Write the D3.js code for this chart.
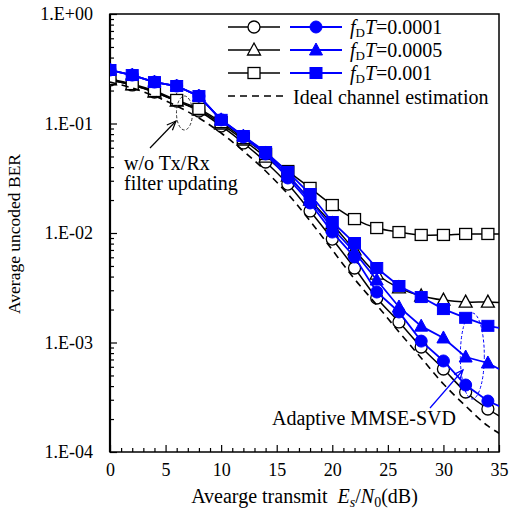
<!DOCTYPE html>
<html>
<head>
<meta charset="utf-8">
<script src="https://cdn.jsdelivr.net/npm/d3@7/dist/d3.min.js"></script>
<style>
  body { margin: 0; background: #fff; }
  svg { display: block; font-family: "Liberation Serif", "Times New Roman", serif; }
</style>
</head>
<body>
<svg id="chart" width="509" height="513"></svg>
<script>
// Es/N0 in dB, last point lies just past the axis end (lines run to the frame)
var snrDb = [0, 2, 4, 6, 8, 10, 12, 14, 16, 18, 20, 22, 24, 26, 28, 30, 32, 34, 36];

// w/o Tx/Rx filter updating (black, open markers)
var woUpd0001 = [0.25, 0.225, 0.194, 0.16, 0.13, 0.095, 0.0664, 0.0445, 0.028, 0.0159, 0.00881, 0.00479, 0.00255, 0.00154, 0.00091, 0.000573, 0.000353, 0.000247, 0.000188];
var woUpd0005 = [0.25, 0.225, 0.194, 0.16, 0.133, 0.099, 0.0707, 0.0494, 0.0331, 0.02, 0.0121, 0.007, 0.00422, 0.00315, 0.00266, 0.00244, 0.00234, 0.00234, 0.0023];
var woUpd001 = [0.255, 0.229, 0.198, 0.164, 0.136, 0.103, 0.0737, 0.0527, 0.0368, 0.0258, 0.018, 0.0134, 0.0111, 0.0102, 0.0096, 0.0096, 0.0098, 0.0098, 0.0098];

// Adaptive MMSE-SVD (blue, filled markers)
var adapt0001 = [0.308, 0.277, 0.239, 0.22, 0.178, 0.108, 0.0753, 0.0527, 0.0318, 0.0188, 0.0102, 0.00604, 0.00289, 0.0019, 0.00103, 0.000678, 0.000409, 0.000292, 0.000237];
var adapt0005 = [0.308, 0.277, 0.239, 0.22, 0.178, 0.108, 0.0769, 0.0538, 0.0339, 0.02, 0.0111, 0.0067, 0.00372, 0.00211, 0.00141, 0.0011, 0.000737, 0.00065, 0.000505];
var adapt001 = [0.308, 0.277, 0.239, 0.22, 0.178, 0.108, 0.0769, 0.0549, 0.0361, 0.0227, 0.0126, 0.0081, 0.00479, 0.00328, 0.0026, 0.00202, 0.00168, 0.00142, 0.0013];

// ideal channel estimation (dashed, no markers)
var idealCe = [0.239, 0.211, 0.178, 0.1445, 0.1122, 0.0819, 0.0561, 0.0368, 0.0227, 0.0129, 0.007, 0.0038, 0.0022, 0.00125, 0.000722, 0.000418, 0.000263, 0.000173, 0.000129];

var xTicks = [0, 5, 10, 15, 20, 25, 30, 35];
var yTicks = [1e-4, 1e-3, 1e-2, 1e-1, 1];
var yTickLabels = ["1.E-04", "1.E-03", "1.E-02", "1.E-01", "1.E+00"];
var fdtLabels = ["0.0001", "0.0005", "0.001"];

var svg = d3.select("#chart");
var pL = 110, pR = 499, pT = 14, pB = 452;

var x = d3.scaleLinear().domain([0, 35]).range([pL, pR]);
var y = d3.scaleLog().domain([1e-4, 1]).range([pB, pT]);

svg.append("defs").append("clipPath").attr("id", "plotClip")
  .append("rect").attr("x", pL).attr("y", pT)
  .attr("width", pR - pL).attr("height", pB - pT);

// minor ticks
var minorY = [];
yTicks.slice(0, 4).forEach(function (d) {
  for (var k = 2; k <= 9; k++) minorY.push(d * k);
});
var minorX = [];
for (var i = 0; i <= 35; i++) if (i % 5) minorX.push(i);

svg.append("g").attr("transform", "translate(" + pL + ",0)")
  .call(d3.axisLeft(y).tickValues(minorY).tickSize(-4).tickSizeOuter(0).tickFormat(""))
  .call(function (g) { g.select(".domain").remove(); });
svg.append("g").attr("transform", "translate(0," + pB + ")")
  .call(d3.axisBottom(x).tickValues(minorX).tickSize(-4).tickSizeOuter(0).tickFormat(""))
  .call(function (g) { g.select(".domain").remove(); });

var yAxis = svg.append("g").attr("transform", "translate(" + pL + ",0)")
  .call(d3.axisLeft(y).tickValues(yTicks).tickSize(-7).tickSizeOuter(0).tickPadding(17)
    .tickFormat(function (d, i) { return yTickLabels[i]; }));
var xAxis = svg.append("g").attr("transform", "translate(0," + pB + ")")
  .call(d3.axisBottom(x).tickValues(xTicks).tickSize(-7).tickSizeOuter(0).tickPadding(11));

[xAxis, yAxis].forEach(function (g) {
  g.selectAll("text").attr("font-size", 18).attr("fill", "#000")
    .attr("font-family", "Liberation Serif, Times New Roman, serif");
  g.select(".domain").remove();
});
svg.selectAll(".tick line").attr("stroke", "#000").attr("stroke-width", 1.2);

// frame
svg.append("rect").attr("x", pL).attr("y", pT)
  .attr("width", pR - pL).attr("height", pB - pT)
  .attr("fill", "none").attr("stroke", "#000").attr("stroke-width", 1.5);
svg.append("line").attr("x1", pL).attr("x2", pL).attr("y1", pT).attr("y2", pB)
  .attr("stroke", "#000").attr("stroke-width", 2.2);

var smooth = d3.line().x(function (d) { return x(d[0]); }).y(function (d) { return y(d[1]); })
  .curve(d3.curveCatmullRom.alpha(0.5));
var straight = d3.line().x(function (d) { return x(d[0]); }).y(function (d) { return y(d[1]); });

function pairs(vals) { return snrDb.map(function (s, i) { return [s, vals[i]]; }); }

var series = [
  { vals: woUpd0001, color: "#000", open: true, shape: "circle", line: smooth, w: 1.5 },
  { vals: woUpd0005, color: "#000", open: true, shape: "triangle", line: smooth, w: 1.5 },
  { vals: woUpd001, color: "#000", open: true, shape: "square", line: smooth, w: 1.5 },
  { vals: adapt0001, color: "#0000ff", open: false, shape: "circle", line: straight, w: 1.8 },
  { vals: adapt0005, color: "#0000ff", open: false, shape: "triangle", line: straight, w: 1.8 },
  { vals: adapt001, color: "#0000ff", open: false, shape: "square", line: straight, w: 1.8 }
];

var plot = svg.append("g").attr("clip-path", "url(#plotClip)");

function drawMarker(g, shape, cx, cy, color, open) {
  var m;
  if (shape === "circle") {
    m = g.append("circle").attr("cx", cx).attr("cy", cy).attr("r", 6);
  } else if (shape === "square") {
    m = g.append("rect").attr("x", cx - 6).attr("y", cy - 5.5).attr("width", 12).attr("height", 11);
  } else {
    m = g.append("path").attr("d", "M" + cx + "," + (cy - 7) + "L" + (cx + 6.5) + "," + (cy + 5) + "L" + (cx - 6.5) + "," + (cy + 5) + "Z");
  }
  m.attr("fill", open ? "#fff" : color).attr("stroke", color).attr("stroke-width", open ? 1.3 : 1);
}

series.forEach(function (s) {
  var data = pairs(s.vals);
  plot.append("path").datum(data).attr("d", s.line)
    .attr("fill", "none").attr("stroke", s.color).attr("stroke-width", s.w);
  var mg = plot.append("g");
  data.forEach(function (d) {
    if (d[0] <= 35) drawMarker(mg, s.shape, x(d[0]), y(d[1]), s.color, s.open);
  });
});

plot.append("path").datum(pairs(idealCe)).attr("d", smooth)
  .attr("fill", "none").attr("stroke", "#000").attr("stroke-width", 1.6)
  .attr("stroke-dasharray", "7,5");

// legend
var legend = svg.append("g").attr("font-size", 20);
var legRows = [27, 50, 73, 96];
var legShapes = ["circle", "triangle", "square"];
legShapes.forEach(function (shape, i) {
  var ry = legRows[i];
  legend.append("line").attr("x1", 228).attr("x2", 280).attr("y1", ry).attr("y2", ry)
    .attr("stroke", "#000").attr("stroke-width", 1.5);
  drawMarker(legend, shape, 254, ry, "#000", true);
  legend.append("line").attr("x1", 290).attr("x2", 342).attr("y1", ry).attr("y2", ry)
    .attr("stroke", "#0000ff").attr("stroke-width", 1.8);
  drawMarker(legend, shape, 316, ry, "#0000ff", false);
  var t = legend.append("text").attr("x", 350).attr("y", ry).attr("dy", "0.35em");
  t.append("tspan").attr("font-style", "italic").text("f");
  t.append("tspan").attr("font-size", 13).attr("dy", 3).text("D");
  t.append("tspan").attr("font-style", "italic").attr("dy", -3).text("T");
  t.append("tspan").text("=" + fdtLabels[i]);
});
legend.append("line").attr("x1", 228).attr("x2", 288).attr("y1", legRows[3]).attr("y2", legRows[3])
  .attr("stroke", "#000").attr("stroke-width", 1.6).attr("stroke-dasharray", "7,5");
legend.append("text").attr("x", 293).attr("y", legRows[3] + 1).attr("dy", "0.35em").text("Ideal channel estimation");

// annotation: w/o Tx/Rx filter updating
var ann = svg.append("g").attr("font-size", 20);
ann.append("text").attr("x", 124).attr("y", 170).text("w/o Tx/Rx");
ann.append("text").attr("x", 124).attr("y", 190).text("filter updating");
ann.append("ellipse").attr("cx", x(6.7)).attr("cy", 113).attr("rx", 8).attr("ry", 17)
  .attr("fill", "none").attr("stroke", "#333").attr("stroke-width", 1).attr("stroke-dasharray", "3,2");

function arrow(g, x1, y1, x2, y2, color) {
  g.append("line").attr("x1", x1).attr("y1", y1).attr("x2", x2).attr("y2", y2)
    .attr("stroke", color).attr("stroke-width", 1.2);
  var a = Math.atan2(y2 - y1, x2 - x1), L = 10, s = 0.4;
  g.append("path")
    .attr("d", "M" + (x2 - L * Math.cos(a - s)) + "," + (y2 - L * Math.sin(a - s)) +
      "L" + x2 + "," + y2 + "L" + (x2 - L * Math.cos(a + s)) + "," + (y2 - L * Math.sin(a + s)))
    .attr("fill", "none").attr("stroke", color).attr("stroke-width", 1.2);
}
arrow(ann, 150, 148, 176, 121, "#000");

// annotation: Adaptive MMSE-SVD
ann.append("text").attr("x", 272).attr("y", 425).text("Adaptive MMSE-SVD");
ann.append("ellipse").attr("cx", x(32.6)).attr("cy", 356).attr("rx", 12).attr("ry", 43)
  .attr("fill", "none").attr("stroke", "#0000ff").attr("stroke-width", 1).attr("stroke-dasharray", "3,2");
arrow(ann, 430, 408, 463, 370, "#0000ff");

// axis titles
svg.append("text").attr("transform", "translate(20," + ((pT + pB) / 2 + 1) + ") rotate(-90)")
  .attr("text-anchor", "middle").attr("font-size", 17.5).text("Average uncoded BER");

var xt = svg.append("text").attr("x", (pL + pR) / 2).attr("y", 503)
  .attr("text-anchor", "middle").attr("font-size", 20).attr("xml:space", "preserve");
xt.append("tspan").text("Avearge transmit\u00a0\u00a0");
xt.append("tspan").attr("font-style", "italic").text("E");
xt.append("tspan").attr("font-style", "italic").attr("font-size", 14).attr("dy", 4).text("s");
xt.append("tspan").attr("dy", -4).text("/");
xt.append("tspan").attr("font-style", "italic").text("N");
xt.append("tspan").attr("font-size", 14).attr("dy", 4).text("0");
xt.append("tspan").attr("dy", -4).text("(dB)");
</script>
</body>
</html>
